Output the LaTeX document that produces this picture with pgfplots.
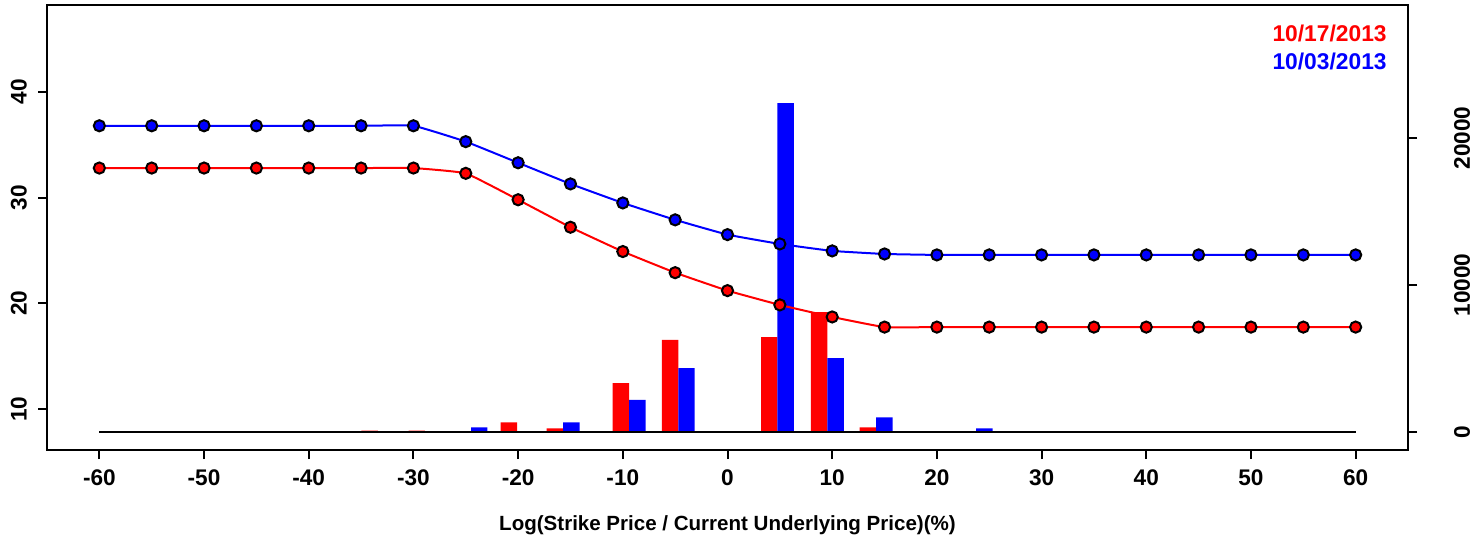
\documentclass[border=0pt]{standalone}
\usepackage{fontspec}
\setmainfont{Liberation Sans}
\usepackage{pgfplots}
\pgfplotsset{compat=1.18}
\begin{document}
\begin{tikzpicture}[x=1pt,y=1pt]
\path[use as bounding box] (0,0) rectangle (740.5,270);
% bars on the right axis
\begin{axis}[
  at={(23.5pt,45pt)}, anchor=south west,
  scale only axis, width=680.5pt, height=222.5pt,
  xmin=-65, xmax=65, ymin=-1224, ymax=29050,
  axis x line=none, axis y line*=right,
  ytick={0,10000,20000},
  scaled y ticks=false,
  /pgf/number format/assume math mode=true,
  yticklabel style={/pgf/number format/fixed, /pgf/number format/1000 sep={}, rotate=90, anchor=north, font=\bfseries\fontsize{11.3}{13}\selectfont},
  yticklabel shift=15pt,
  tick align=outside, major tick length=4.5pt,
  axis line style={line width=1pt},
  every tick/.style={black, line width=1pt},
]
\addplot[ybar, bar width=1.57, bar shift=-0.785, fill=red, draw=none] coordinates {
 (-33.4,100) (-28.9,100) (-20.1,660) (-15.7,250) (-9.4,3330) (-4.7,6260) (4.77,6460) (9.54,8160) (14.2,320)
};
\addplot[ybar, bar width=1.57, bar shift=0.785, fill=blue, draw=none] coordinates {
 (-24.5,320) (-15.7,660) (-9.4,2180) (-4.7,4350) (4.77,22380) (9.54,5030) (14.2,1000) (23.75,250)
};
\addplot[black, line width=1.2pt] coordinates {(-60,0) (60,0)};
\end{axis}
% lines on the left axis
\begin{axis}[
  at={(23.5pt,45pt)}, anchor=south west,
  scale only axis, width=680.5pt, height=222.5pt,
  xmin=-65, xmax=65, ymin=6.12, ymax=48.23,
  xtick={-60,-50,...,60}, ytick={10,20,30,40},
  xtick pos=left, ytick pos=left,
  /pgf/number format/assume math mode=true,
  tick label style={font=\bfseries\fontsize{11.3}{13}\selectfont},
  yticklabel style={rotate=90, anchor=south},
  yticklabel shift=2pt, xticklabel shift=2pt,
  tick align=outside, major tick length=4.5pt,
  axis line style={line width=1pt},
  every tick/.style={black, line width=1pt},
  xlabel={Log(Strike Price / Current Underlying Price)(\%)},
  every axis x label/.style={at={(rel axis cs:0.5,0)}, anchor=center, yshift=-37.5pt, font=\bfseries\fontsize{10.27}{12}\selectfont},
  clip=false,
]
\addplot[red, line width=1pt, smooth, tension=0.2, mark=*, mark size=2.8pt, mark options={fill=red, draw=black, line width=1pt}] coordinates {
 (-60,32.8) (-55,32.8) (-50,32.8) (-45,32.8) (-40,32.8) (-35,32.8) (-30,32.8)
 (-25,32.3) (-20,29.8) (-15,27.2) (-10,24.9) (-5,22.9) (0,21.2) (5,19.85) (10,18.71) (15,17.75)
 (20,17.75) (25,17.75) (30,17.75) (35,17.75) (40,17.75) (45,17.75) (50,17.75) (55,17.75) (60,17.75)
};
\addplot[blue, line width=1pt, smooth, tension=0.2, mark=*, mark size=2.8pt, mark options={fill=blue, draw=black, line width=1pt}] coordinates {
 (-60,36.8) (-55,36.8) (-50,36.8) (-45,36.8) (-40,36.8) (-35,36.8) (-30,36.8)
 (-25,35.3) (-20,33.3) (-15,31.3) (-10,29.5) (-5,27.9) (0,26.5) (5,25.62) (10,24.96) (15,24.67)
 (20,24.58) (25,24.58) (30,24.58) (35,24.58) (40,24.58) (45,24.58) (50,24.58) (55,24.58) (60,24.58)
};
\node[anchor=east, inner sep=0pt, text=red, font=\bfseries\fontsize{11.4}{13}\selectfont] at (rel axis cs:0.9846,0.937) {10/17/2013};
\node[anchor=east, inner sep=0pt, text=blue, font=\bfseries\fontsize{11.4}{13}\selectfont] at (rel axis cs:0.9846,0.872) {10/03/2013};
\end{axis}
\end{tikzpicture}
\end{document}
